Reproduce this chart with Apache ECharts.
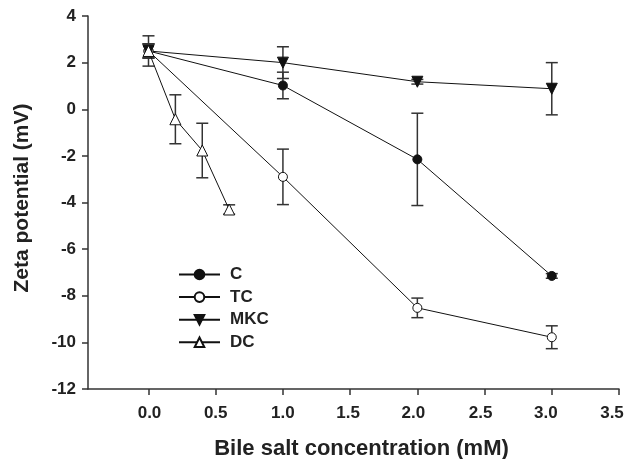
<!DOCTYPE html>
<html><head><meta charset="utf-8">
<script src="https://cdn.jsdelivr.net/npm/echarts@6/dist/echarts.min.js"></script>
<style>html,body{margin:0;padding:0;background:#fff}#c{width:629px;height:459px}</style>
</head><body><div id="c"></div>
<script>
const xTicks = [0, 0.5, 1.0, 1.5, 2.0, 2.5, 3.0, 3.5];
const yTicks = [-12, -10, -8, -6, -4, -2, 0, 2, 4];
const xMain = [0, 1, 2, 3];
const xDC = [0, 0.2, 0.4, 0.6];
const seriesNames = ['C', 'TC', 'MKC', 'DC'];
const valC = [2.5, 1.02, -2.15, -7.15];
const errC = [0.65, 0.57, 1.98, 0.1];
const valTC = [2.5, -2.9, -8.52, -9.78];
const errTC = [0.3, 1.19, 0.42, 0.49];
const valMKC = [2.5, 2.0, 1.18, 0.88];
const errMKC = [0.3, 0.68, 0.1, 1.12];
const valDC = [2.5, -0.43, -1.77, -4.3];
const errDC = [0.3, 1.05, 1.17, 0.2];

const font = '"Liberation Sans", Arial, sans-serif';
const chart = echarts.init(document.getElementById('c'));

function pts(xs, ys) { return xs.map((x, i) => [x, ys[i]]); }
function errs(xs, ys, es) { return xs.map((x, i) => [x, ys[i] - es[i], ys[i] + es[i]]); }

// small horizontal nudges of x tick labels, as in the scanned original
const labelNudge = [1, 0, 0, -2, -4, -4, -6, -7];
const xRich = {};
labelNudge.forEach((n, i) => {
  xRich['s' + i] = {
    fontFamily: font, fontWeight: 'bold', fontSize: 17, color: '#222',
    padding: n >= 0 ? [0, 0, 0, 2 * n] : [0, -2 * n, 0, 0]
  };
});

function errSeries(data) {
  return {
    type: 'custom', silent: true, z: 1,
    data: data,
    renderItem: function (params, api) {
      const x = api.value(0);
      const lo = api.coord([x, api.value(1)]);
      const hi = api.coord([x, api.value(2)]);
      const w = 6;
      const st = { stroke: '#333', lineWidth: 1.5 };
      return { type: 'group', children: [
        { type: 'line', shape: { x1: lo[0], y1: lo[1], x2: hi[0], y2: hi[1] }, style: st },
        { type: 'line', shape: { x1: lo[0] - w, y1: lo[1], x2: lo[0] + w, y2: lo[1] }, style: st },
        { type: 'line', shape: { x1: hi[0] - w, y1: hi[1], x2: hi[0] + w, y2: hi[1] }, style: st }
      ]};
    }
  };
}

function lineSeries(name, data, symbol, fill, rot, size) {
  return {
    name: name, type: 'line', data: data, z: 3,
    symbol: symbol, symbolSize: size, symbolRotate: rot, showSymbol: true,
    lineStyle: { color: '#111', width: 1 },
    itemStyle: { color: fill, borderColor: '#111', borderWidth: 1 },
    emphasis: { disabled: true }, animation: false
  };
}

chart.setOption({
  animation: false,
  grid: { left: 88, right: 10, top: 16, bottom: 70, containLabel: false, outerBoundsMode: 'none' },
  legend: {
    orient: 'vertical', left: 173, top: 261,
    itemWidth: 41, itemHeight: 12, itemGap: 5.6,
    data: seriesNames,
    textStyle: { fontFamily: font, fontWeight: 'bold', fontSize: 17, lineHeight: 17, color: '#222', padding: [0, 0, 0, 5] }
  },
  xAxis: {
    type: 'value', min: -0.45, max: 3.5,
    name: 'Bile salt concentration (mM)', nameLocation: 'middle', nameGap: 49,
    nameTextStyle: { fontFamily: font, fontWeight: 'bold', fontSize: 22, color: '#222', padding: [0, 0, 0, 16] },
    axisLine: { show: true, onZero: false, lineStyle: { color: '#333', width: 1.5 } },
    axisTick: { show: true, length: 6, lineStyle: { color: '#333', width: 1.5 }, customValues: xTicks },
    axisLabel: { margin: 16, customValues: xTicks,
      formatter: v => { const i = xTicks.findIndex(t => Math.abs(t - v) < 1e-9); return '{s' + (i < 0 ? 0 : i) + '|' + v.toFixed(1) + '}'; },
      rich: xRich, fontFamily: font, fontWeight: 'bold', fontSize: 17, color: '#222' },
    splitLine: { show: false }
  },
  yAxis: {
    type: 'value', min: -12, max: 4, interval: 2,
    name: 'Zeta potential (mV)', nameLocation: 'middle', nameGap: 55,
    nameTextStyle: { fontFamily: font, fontWeight: 'bold', fontSize: 21, color: '#222', padding: [0, 0, 0, 9] },
    axisLine: { show: true, onZero: false, lineStyle: { color: '#333', width: 1.5 } },
    axisTick: { show: true, length: 6, lineStyle: { color: '#333', width: 1.5 } },
    axisLabel: { margin: 12, fontFamily: font, fontWeight: 'bold', fontSize: 17, color: '#222',
      formatter: v => yTicks.includes(v) ? String(v) : '' },
    splitLine: { show: false }
  },
  series: [
    errSeries(errs(xMain, valC, errC)),
    errSeries(errs(xMain, valTC, errTC)),
    errSeries(errs(xMain, valMKC, errMKC)),
    errSeries(errs(xDC, valDC, errDC)),
    lineSeries('C', pts(xMain, valC), 'circle', '#111', 0, 9),
    lineSeries('TC', pts(xMain, valTC), 'circle', '#fff', 0, 9),
    lineSeries('MKC', pts(xMain, valMKC), 'triangle', '#111', 180, 11),
    lineSeries('DC', pts(xDC, valDC), 'triangle', '#fff', 0, 11)
  ]
});
</script></body></html>
